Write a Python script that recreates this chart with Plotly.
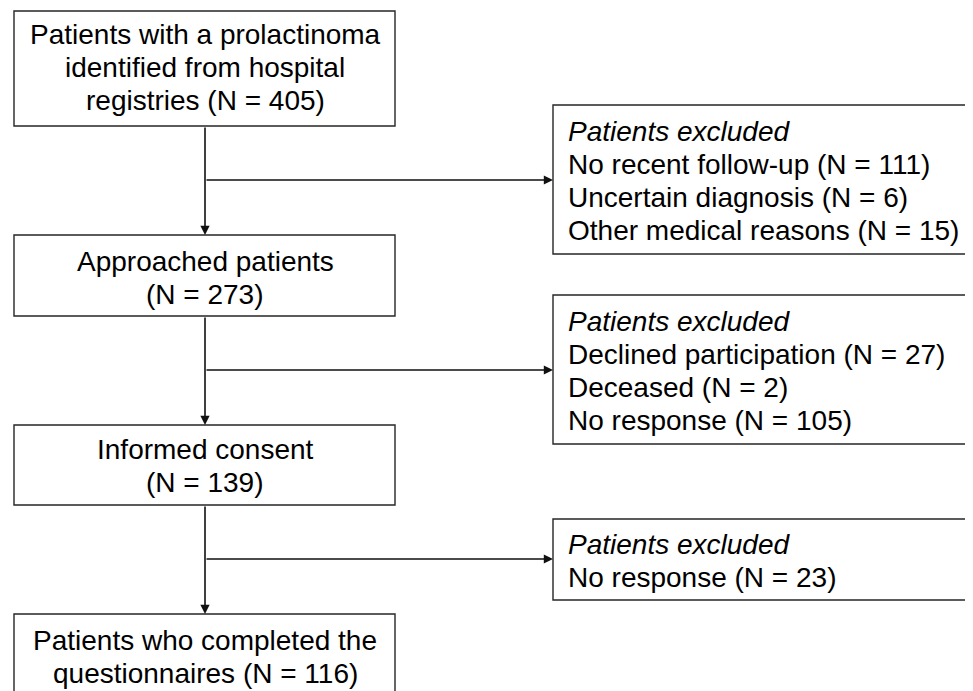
import plotly.graph_objects as go

# ---- data ----
stage_counts = [405, 273, 139, 116]
stage_lines = [
    ["Patients with a prolactinoma", "identified from hospital", "registries (N = {n})"],
    ["Approached patients", "(N = {n})"],
    ["Informed consent", "(N = {n})"],
    ["Patients who completed the", "questionnaires (N = {n})"],
]
exclusion_title = "Patients excluded"
exclusion_reasons = [
    ["No recent follow-up", "Uncertain diagnosis", "Other medical reasons"],
    ["Declined participation", "Deceased", "No response"],
    ["No response"],
]
exclusion_counts = [[111, 6, 15], [27, 2, 105], [23]]

# ---- layout geometry (pixels of the page, y downward) ----
W, H = 973, 691
PAGE_MARGIN = 8  # default body margin of the html page
main_x0, main_x1 = 14, 395
main_cx = 205
main_boxes_y = [(11, 126), (235, 316), (425, 505), (614, 720)]
main_text_yc = [67.5, 277.5, 466, 657]
excl_x0, excl_x1 = 553, 990
excl_text_x = 566
excl_boxes_y = [(105, 254), (295, 444), (519, 600)]
branch_y = [180, 370, 559]
line_h = 33
FONT = "Arial, Liberation Sans, Helvetica, sans-serif"
FS = 28
INK = "#111111"

fig = go.Figure()
shapes = []
annotations = []

def box(x0, y0, x1, y1):
    shapes.append(dict(type="rect", xref="x", yref="y", x0=x0, x1=x1, y0=y0, y1=y1,
                       line=dict(color="#262626", width=1.4), fillcolor="white", layer="below"))

def text_lines(lines, x, yc, xanchor, italic_first=False):
    n = len(lines)
    for i, t in enumerate(lines):
        y = yc + (i - (n - 1) / 2) * line_h
        txt = f"<i>{t}</i>" if (italic_first and i == 0) else t
        annotations.append(dict(x=x, y=y, xref="x", yref="y", text=txt, showarrow=False,
                                xanchor=xanchor, yanchor="middle",
                                font=dict(family=FONT, size=FS, color="black")))

# main boxes
for k, (y0, y1) in enumerate(main_boxes_y):
    box(main_x0, y0, main_x1, y1)
    lines = [s.format(n=stage_counts[k]) for s in stage_lines[k]]
    text_lines(lines, main_cx, main_text_yc[k], "center")

# exclusion boxes
for k, (y0, y1) in enumerate(excl_boxes_y):
    box(excl_x0, y0, excl_x1, y1)
    lines = [exclusion_title] + [f"{r} (N = {c})" for r, c in zip(exclusion_reasons[k], exclusion_counts[k])]
    text_lines(lines, excl_text_x, (y0 + y1) / 2 + 1, "left", italic_first=True)

def arrow(x_tail, y_tail, x_tip, y_tip):
    annotations.append(dict(x=x_tip, y=y_tip, ax=x_tail, ay=y_tail, xref="x", yref="y",
                            axref="x", ayref="y", text="", showarrow=True,
                            arrowhead=2, arrowsize=1.15, arrowwidth=1.6, arrowcolor=INK,
                            standoff=0, startstandoff=0))

# vertical arrows between main boxes
for k in range(3):
    arrow(main_cx, main_boxes_y[k][1], main_cx, main_boxes_y[k + 1][0])
# horizontal branch arrows
for k in range(3):
    arrow(main_cx, branch_y[k], excl_x0, branch_y[k])

fig.update_layout(
    width=W - PAGE_MARGIN, height=H - PAGE_MARGIN,
    margin=dict(l=0, r=0, t=0, b=0),
    paper_bgcolor="white", plot_bgcolor="white",
    xaxis=dict(range=[PAGE_MARGIN, W], visible=False, fixedrange=True),
    yaxis=dict(range=[H, PAGE_MARGIN], visible=False, fixedrange=True),
    shapes=shapes, annotations=annotations, showlegend=False,
)
fig.write_html("out.html")
